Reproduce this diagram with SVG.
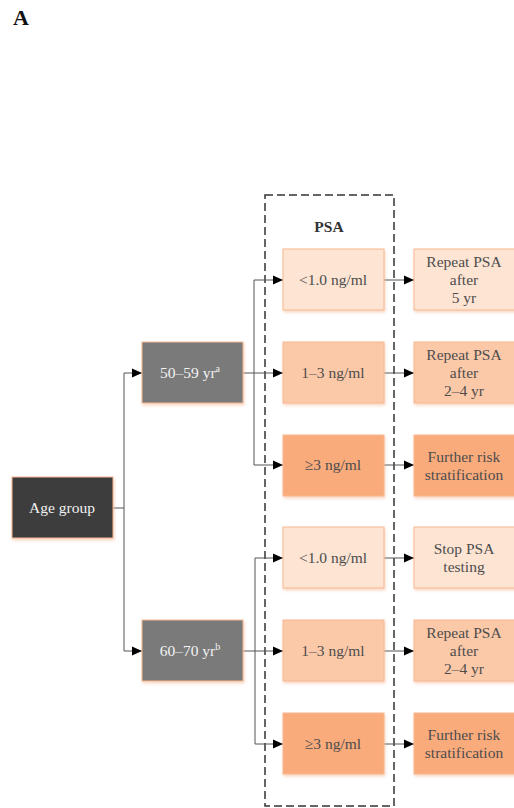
<svg xmlns="http://www.w3.org/2000/svg" width="514" height="808" viewBox="0 0 514 808">
<defs>
<marker id="ah" viewBox="0 0 10 10" refX="10" refY="5" markerWidth="10" markerHeight="10" markerUnits="userSpaceOnUse" orient="auto">
<path d="M0,0.5 L10,5 L0,9.5 Z" fill="#000"/>
</marker>
<filter id="sh" x="-10%" y="-10%" width="130%" height="130%">
<feDropShadow dx="1" dy="2" stdDeviation="1.5" flood-color="#f4b08a" flood-opacity="0.5"/>
</filter>
</defs>
<style>
text{font-family:"Liberation Serif","Times New Roman",serif;font-size:15.5px;text-anchor:middle;fill:#4d4d4d}
.bx{stroke:#f7b892;stroke-width:1;filter:url(#sh)}
.l1{fill:#fde4d3}
.l2{fill:#fcc9a8}
.l3{fill:#faab7b}
.dk{fill:#3c3c3c}
.md{fill:#7a7a7a}
.wt{fill:#f2f2f2}
.cn{fill:none;stroke:#555;stroke-width:1}
.ar{marker-end:url(#ah)}
</style>
<rect width="514" height="808" fill="#fff"/>
<text x="13" y="25" style="font-size:22px;font-weight:bold;text-anchor:start;fill:#111">A</text>

<rect x="265" y="195" width="129" height="611" fill="none" stroke="#333" stroke-width="1.5" stroke-dasharray="8,4"/>
<text x="329" y="232" style="font-weight:bold;fill:#333">PSA</text>

<g id="connectors">
<path class="cn" d="M113,508 H124 V373"/>
<path class="cn" d="M124,508 V651"/>
<path class="cn ar" d="M124,373 H142"/>
<path class="cn ar" d="M124,651 H142"/>
<path class="cn ar" d="M243,373 H283"/>
<path class="cn ar" d="M254,280 H283"/>
<path class="cn" d="M254,280 V465"/>
<path class="cn ar" d="M254,465 H283"/>
<path class="cn ar" d="M243,651 H283"/>
<path class="cn ar" d="M255,558 H283"/>
<path class="cn" d="M255,558 V744"/>
<path class="cn ar" d="M255,744 H283"/>
<path class="cn ar" d="M384,280 H414"/>
<path class="cn ar" d="M384,373 H414"/>
<path class="cn ar" d="M384,465 H414"/>
<path class="cn ar" d="M384,558 H414"/>
<path class="cn ar" d="M384,651 H414"/>
<path class="cn ar" d="M384,744 H414"/>
</g>

<g id="age">
<rect class="bx dk" x="12" y="477" width="101" height="61"/>
<text class="wt" x="62" y="513">Age group</text>
</g>
<g id="age5059">
<rect class="bx md" x="142" y="342" width="101" height="61"/>
<text class="wt" x="190" y="378">50–59 yr<tspan dy="-6" style="font-size:10px">a</tspan></text>
</g>
<g id="age6070">
<rect class="bx md" x="142" y="620" width="101" height="61"/>
<text class="wt" x="190" y="656">60–70 yr<tspan dy="-6" style="font-size:10px">b</tspan></text>
</g>

<g id="psa1a">
<rect class="bx l1" x="283" y="249" width="101" height="61"/>
<text x="333" y="285">&lt;1.0 ng/ml</text>
</g>
<g id="psa2a">
<rect class="bx l2" x="283" y="342" width="101" height="61"/>
<text x="333" y="378">1–3 ng/ml</text>
</g>
<g id="psa3a">
<rect class="bx l3" x="283" y="435" width="101" height="61"/>
<text x="333" y="470">≥3 ng/ml</text>
</g>
<g id="psa1b">
<rect class="bx l1" x="283" y="527" width="101" height="61"/>
<text x="333" y="563">&lt;1.0 ng/ml</text>
</g>
<g id="psa2b">
<rect class="bx l2" x="283" y="620" width="101" height="61"/>
<text x="333" y="656">1–3 ng/ml</text>
</g>
<g id="psa3b">
<rect class="bx l3" x="283" y="713" width="101" height="61"/>
<text x="333" y="749">≥3 ng/ml</text>
</g>

<g id="out1a">
<rect class="bx l1" x="414" y="249" width="110" height="61"/>
<text x="464" y="267">Repeat PSA</text>
<text x="464" y="285">after</text>
<text x="464" y="303">5 yr</text>
</g>
<g id="out2a">
<rect class="bx l2" x="414" y="342" width="110" height="61"/>
<text x="464" y="360">Repeat PSA</text>
<text x="464" y="378">after</text>
<text x="464" y="396">2–4 yr</text>
</g>
<g id="out3a">
<rect class="bx l3" x="414" y="435" width="110" height="61"/>
<text x="464" y="462">Further risk</text>
<text x="464" y="480">stratification</text>
</g>
<g id="out1b">
<rect class="bx l1" x="414" y="527" width="110" height="61"/>
<text x="464" y="554">Stop PSA</text>
<text x="464" y="572">testing</text>
</g>
<g id="out2b">
<rect class="bx l2" x="414" y="620" width="110" height="61"/>
<text x="464" y="638">Repeat PSA</text>
<text x="464" y="656">after</text>
<text x="464" y="674">2–4 yr</text>
</g>
<g id="out3b">
<rect class="bx l3" x="414" y="713" width="110" height="61"/>
<text x="464" y="740">Further risk</text>
<text x="464" y="758">stratification</text>
</g>
</svg>
